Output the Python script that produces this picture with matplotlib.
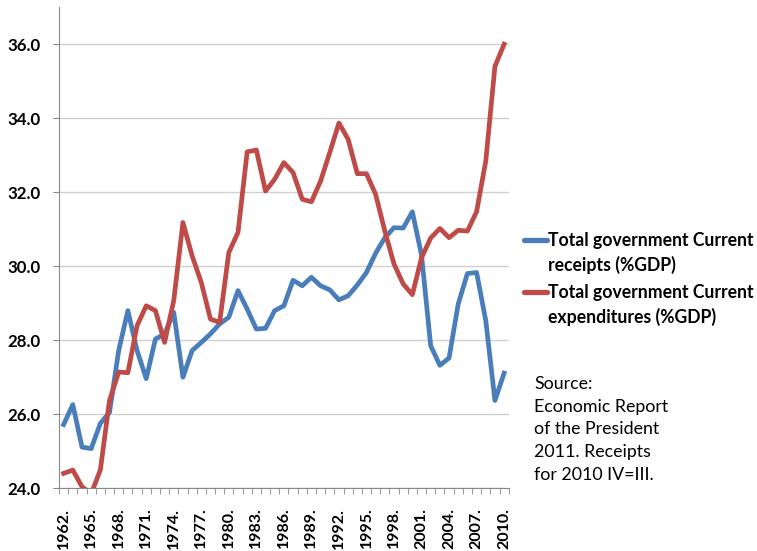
import matplotlib.pyplot as plt
from matplotlib.lines import Line2D
import numpy as np

years = list(range(1962, 2011))

receipts = [25.72, 26.26, 25.11, 25.07, 25.75, 26.05, 27.72, 28.80, 27.72, 26.96,
            28.03, 28.17, 28.75, 27.00, 27.72, 27.94, 28.17, 28.44, 28.62, 29.34,
            28.84, 28.30, 28.32, 28.80, 28.93, 29.62, 29.47, 29.70, 29.47, 29.36,
            29.09, 29.20, 29.49, 29.83, 30.35, 30.77, 31.04, 31.03, 31.47, 30.30,
            27.85, 27.32, 27.52, 28.98, 29.80, 29.83, 28.53, 26.37, 27.11]

expenditures = [24.40, 24.49, 24.04, 23.85, 24.49, 26.37, 27.14, 27.12, 28.39, 28.93,
                28.80, 27.94, 29.07, 31.18, 30.28, 29.56, 28.57, 28.48, 30.37, 30.91,
                33.09, 33.14, 32.03, 32.35, 32.80, 32.53, 31.81, 31.74, 32.30, 33.07,
                33.87, 33.43, 32.50, 32.50, 31.94, 30.95, 30.06, 29.52, 29.23, 30.23,
                30.76, 31.02, 30.77, 30.97, 30.95, 31.47, 32.84, 35.40, 36.00]

y_ticks = [24.0, 26.0, 28.0, 30.0, 32.0, 34.0, 36.0]

series_names = [['Total government Current', 'receipts (%GDP)'],
                ['Total government Current', 'expenditures (%GDP)']]
series_colors = ['#4a7ebb', '#be4b48']

plt.rcParams['font.family'] = ['Lato', 'DejaVu Sans']

fig = plt.figure(figsize=(7.57, 5.51), dpi=100)
ax = fig.add_axes([0.078, 0.114, 0.594, 0.873])

x = np.arange(len(years))
for vals, c in zip([receipts, expenditures], series_colors):
    ax.plot(x, vals, color=c, lw=3.4, solid_joinstyle='round', zorder=3)

ax.set_xlim(-0.5, len(years) - 0.5)
ax.set_ylim(24, 37)
ax.set_yticks(y_ticks)
ax.set_yticklabels([f'{v:.1f}' for v in y_ticks], fontweight='bold', fontsize=12.2)
ax.grid(axis='y', color='#d0d0d0', lw=1)
ax.set_axisbelow(True)

major = x[::3]
ax.set_xticks(major)
ax.set_xticklabels([f'{years[i]}.' for i in major], rotation=90,
                   fontweight='bold', fontsize=11.5)
ax.set_xticks(np.arange(-0.5, len(years), 1), minor=True)
ax.tick_params(axis='x', which='major', length=0, pad=14)
ax.tick_params(axis='x', which='minor', length=4, color='#888888')
ax.tick_params(axis='y', length=4, color='#888888', pad=9)

for s in ['top', 'right']:
    ax.spines[s].set_visible(False)
for s in ['left', 'bottom']:
    ax.spines[s].set_color('#888888')

# legend, handle aligned with the first text line
leg_y = [0.564, 0.470]
line_gap = 0.0455
for name, c, yy in zip(series_names, series_colors, leg_y):
    fig.add_artist(Line2D([0.692, 0.722], [yy, yy], color=c, lw=3.8,
                          solid_capstyle='round', transform=fig.transFigure))
    for k, part in enumerate(name):
        fig.text(0.724, yy - k * line_gap, part, fontsize=12.7, fontweight='bold',
                 va='center', ha='left')

fig.text(0.706, 0.318, 'Source:\nEconomic Report\nof the President\n2011. Receipts\nfor 2010 IV=III.',
         fontsize=12.8, va='top', ha='left', linespacing=1.52)

plt.savefig('out.png')
